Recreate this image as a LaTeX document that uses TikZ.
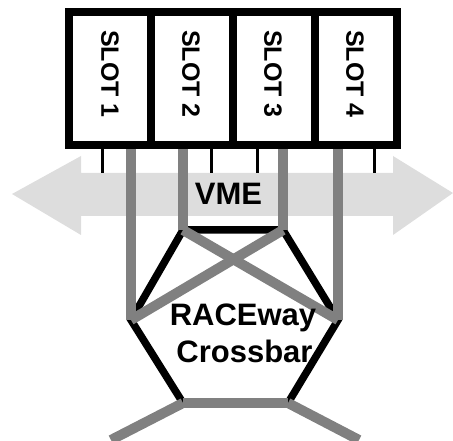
\documentclass[tikz,border=0pt]{standalone}
\usepackage{fontspec}
\setmainfont{Liberation Sans}
\usetikzlibrary{calc}
\definecolor{busgray}{HTML}{808080}
\definecolor{vmegray}{HTML}{DDDDDD}
\begin{document}
\begin{tikzpicture}[x=1pt,y=-1pt,
  slotbox/.style={draw=black, line width=8pt, minimum width=81.9pt,
    minimum height=133pt, inner sep=0pt, fill=white},
  slotlabel/.style={rotate=-90, font=\fontsize{25}{25}\selectfont\bfseries, inner sep=0pt},
  pin/.style={draw=black, line width=3pt},
  bus/.style={draw=busgray, line width=10pt},
  xbar/.style={draw=black, line width=7.5pt, line join=miter},
  biglabel/.style={font=\fontsize{31}{31}\selectfont\bfseries, inner sep=0pt}]
\useasboundingbox (0,0) rectangle (453,441);

% VME backplane: double-headed arrow
\fill[vmegray] (12,194) -- (81,156) -- (81,173) -- (393,173) -- (393,156)
  -- (453,193) -- (393,235) -- (393,216) -- (81,216) -- (81,235) -- cycle;
\node[biglabel, anchor=base] (vme) at (228.5,205) {VME};

% card slots
\node[slotbox] (s1) at (110,78.5) {};
\node[slotbox] (s2) at (191.9,78.5) {};
\node[slotbox] (s3) at (273.8,78.5) {};
\node[slotbox] (s4) at (355.7,78.5) {};
\node[slotlabel] (l1) at (110,74) {SLOT 1};
\node[slotlabel] (l2) at (191,74) {SLOT 2};
\node[slotlabel] (l3) at (273,74) {SLOT 3};
\node[slotlabel] (l4) at (355,74) {SLOT 4};

% VME pins
\coordinate (t1) at (102,173);
\coordinate (t2) at (211,173);
\coordinate (t3) at (257,173);
\coordinate (t4) at (374,173);
\draw[pin] (s1.south -| t1) -- (t1);
\draw[pin] (s2.south -| t2) -- (t2);
\draw[pin] (s3.south -| t3) -- (t3);
\draw[pin] (s4.south -| t4) -- (t4);

% crossbar corners
\coordinate (TL) at (183,230);
\coordinate (TR) at (283,230);
\coordinate (R) at (338,320);
\coordinate (BR) at (288,403);
\coordinate (BL) at (183,403);
\coordinate (L) at (131,320);
\coordinate (e1) at (111,440);
\coordinate (e2) at (359,440);

% crossbar outline
\draw[xbar] (BL) -- (L) -- (TL) -- (TR) -- (R) -- (BR);

% RACEway links
\draw[bus] (s1.south -| L) -- (L);
\draw[bus] (s2.south -| TL) -- (TL);
\draw[bus] (s3.south -| TR) -- (TR);
\draw[bus] (s4.south -| R) -- (R);
\draw[bus] (TL) -- (R);
\draw[bus] (TR) -- (L);
\draw[bus] (BL) -- (BR);
\draw[bus] (BL) -- (e1);
\draw[bus] (BR) -- (e2);

\node[biglabel, anchor=base] (race) at (243,325) {RACEway};
\node[biglabel, anchor=base] (xb) at (244.5,362) {Crossbar};
\end{tikzpicture}
\end{document}
